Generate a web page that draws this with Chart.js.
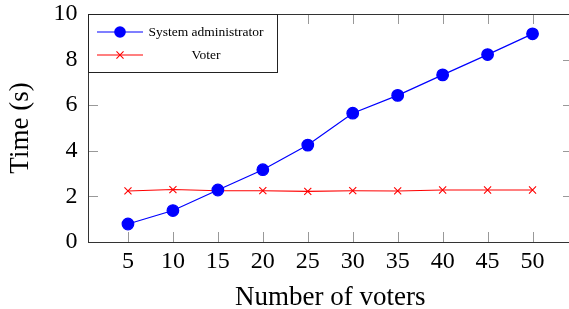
<!DOCTYPE html>
<html>
<head>
<meta charset="utf-8">
<script src="https://cdn.jsdelivr.net/npm/chart.js@4.4.1/dist/chart.umd.min.js"></script>
<style>
  html, body { margin: 0; padding: 0; background: #fff; overflow: hidden; }
  #wrap { width: 580px; height: 309px; }
</style>
</head>
<body>
<div id="wrap"><canvas id="grafico"></canvas></div>
<script>
const voters = [5, 10, 15, 20, 25, 30, 35, 40, 45, 50];
const adminTime = [0.79, 1.38, 2.28, 3.17, 4.25, 5.65, 6.43, 7.33, 8.22, 9.13];
const voterTime = [2.24, 2.3, 2.25, 2.25, 2.22, 2.25, 2.24, 2.28, 2.28, 2.28];
const yTicks = [0, 2, 4, 6, 8, 10];

const serif = "'Liberation Serif', 'DejaVu Serif', serif";

// frame, inward tick marks and the legend box inside the plot
const framePlugin = {
  id: "frame",
  afterDraw(chart) {
    const c = chart.ctx;
    const a = chart.chartArea;
    const sx = chart.scales.x;
    const sy = chart.scales.y;
    const len = 10;
    const L = Math.round(a.left), T = Math.round(a.top);
    const R = Math.round(a.right), B = Math.round(a.bottom);
    c.save();
    c.fillStyle = "#999999";
    voters.forEach((v) => {
      const px = Math.round(sx.getPixelForValue(v));
      c.fillRect(px, B - len, 1, len);
      c.fillRect(px, T, 1, len);
    });
    yTicks.forEach((v) => {
      const py = Math.round(sy.getPixelForValue(v));
      c.fillRect(L, py, len, 1);
      c.fillRect(R - len, py, len, 1);
    });

    c.fillStyle = "#333333";
    c.fillRect(L, T, R - L, 1);
    c.fillRect(L, B, R - L, 1);
    c.fillRect(L, T, 1, B - T);
    c.fillRect(R, T, 1, B - T);

    // legend
    const lx = L, ly = T, lw = 189, lh = 58;
    c.fillStyle = "#ffffff";
    c.fillRect(lx, ly, lw, lh);
    c.strokeStyle = "#222222";
    c.lineWidth = 1;
    c.strokeRect(lx + 0.5, ly + 0.5, lw, lh);
    const rows = [ly + 18, ly + 41];
    chart.data.datasets.forEach((ds, i) => {
      const y = rows[i];
      const mx = lx + 32;
      c.strokeStyle = ds.borderColor;
      c.fillStyle = ds.pointBackgroundColor;
      c.lineWidth = ds.borderWidth;
      c.beginPath();
      c.moveTo(lx + 9, y); c.lineTo(lx + 55, y);
      c.stroke();
      c.beginPath();
      if (ds.pointStyle === "circle") {
        c.arc(mx, y, ds.pointRadius, 0, Math.PI * 2);
        c.fill();
      } else {
        const r = ds.pointRadius * 0.707;
        c.moveTo(mx - r, y - r); c.lineTo(mx + r, y + r);
        c.moveTo(mx - r, y + r); c.lineTo(mx + r, y - r);
        c.stroke();
      }
      c.fillStyle = "#000";
      c.font = "13.5px " + serif;
      c.textAlign = "center";
      c.textBaseline = "middle";
      c.fillText(ds.label, lx + 118, y);
    });
    c.restore();
  }
};

const ctx = document.getElementById("grafico").getContext("2d");
new Chart(ctx, {
  type: "line",
  data: {
    datasets: [
      {
        label: "System administrator",
        data: voters.map((v, i) => ({ x: v, y: adminTime[i] })),
        borderColor: "#0000ff",
        backgroundColor: "#0000ff",
        pointBackgroundColor: "#0000ff",
        pointBorderColor: "#0000ff",
        pointStyle: "circle",
        pointRadius: 5.8,
        borderWidth: 1.2,
      },
      {
        label: "Voter",
        data: voters.map((v, i) => ({ x: v, y: voterTime[i] })),
        borderColor: "#ff0000",
        backgroundColor: "#ff0000",
        pointBackgroundColor: "#ff0000",
        pointBorderColor: "#ff0000",
        pointStyle: "crossRot",
        pointRadius: 5,
        borderWidth: 1.1,
      },
    ],
  },
  options: {
    responsive: true,
    maintainAspectRatio: false,
    animation: false,
    layout: { padding: { top: 14, right: 6.5, left: 0, bottom: 0 } },
    plugins: { legend: { display: false }, tooltip: { enabled: false } },
    scales: {
      x: {
        type: "linear",
        min: 0.5,
        max: 54.5,
        afterBuildTicks: (s) => { s.ticks = voters.map((v) => ({ value: v })); },
        afterFit: (s) => { s.height = 67; s.paddingLeft = 0; s.paddingRight = 0; },
        grid: { display: false, drawTicks: false },
        border: { display: false },
        ticks: {
          padding: 5,
          color: "#000",
          font: { family: serif, size: 24 },
          maxRotation: 0,
          autoSkip: false,
        },
        title: {
          display: true,
          text: "Number of voters",
          color: "#000",
          font: { family: serif, size: 27, lineHeight: 1 },
          padding: { top: 0, bottom: -2 },
        },
      },
      y: {
        min: 0,
        max: 10,
        afterBuildTicks: (s) => { s.ticks = yTicks.map((v) => ({ value: v })); },
        afterFit: (s) => { s.width = 87.5; s.paddingTop = 0; s.paddingBottom = 0; },
        grid: { display: false, drawTicks: false },
        border: { display: false },
        ticks: {
          padding: 10,
          color: "#000",
          font: { family: serif, size: 24, lineHeight: 1 },
        },
        title: {
          display: true,
          text: "Time (s)",
          color: "#000",
          font: { family: serif, size: 27, lineHeight: 1 },
          padding: { top: 7, bottom: 0 },
        },
      },
    },
  },
  plugins: [framePlugin],
});
</script>
</body>
</html>
